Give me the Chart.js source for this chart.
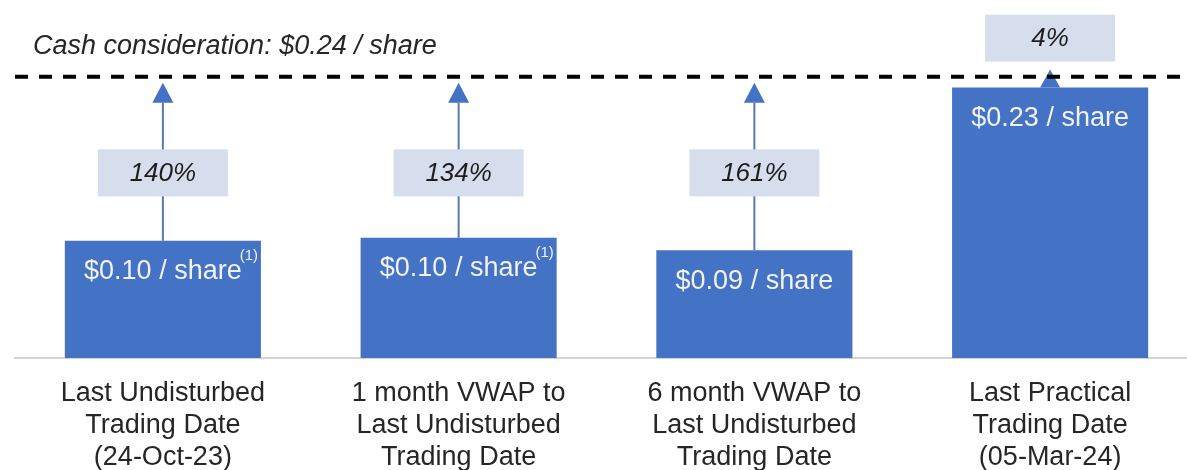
<!DOCTYPE html>
<html><head><meta charset="utf-8">
<script src="https://cdn.jsdelivr.net/npm/chart.js@4.4.0/dist/chart.umd.min.js"></script>
<style>
html,body{margin:0;padding:0;background:#fff;overflow:hidden;}
#wrap{position:relative;width:1200px;height:494px;}
</style></head><body>
<div id="wrap"><canvas id="c"></canvas></div>
<script>
const categories = [
  ["Last Undisturbed", "Trading Date", "(24-Oct-23)"],
  ["1 month VWAP to", "Last Undisturbed", "Trading Date"],
  ["6 month VWAP to", "Last Undisturbed", "Trading Date"],
  ["Last Practical", "Trading Date", "(05-Mar-24)"]
];
const sharePrices = [0.100, 0.1026, 0.092, 0.2308];
const priceLabels = ["$0.10 / share", "$0.10 / share", "$0.09 / share", "$0.23 / share"];
const footnoteMarks = ["(1)", "(1)", "", ""];
const premiumLabels = ["140%", "134%", "161%", "4%"];
const cashConsideration = 0.24;
const cashLabel = "Cash consideration: $0.24 / share";

const FONT = "'Liberation Sans', Arial, sans-serif";

const overlay = {
  id: 'overlay',
  afterDatasetsDraw(chart) {
    const ctx = chart.ctx;
    const ys = chart.scales.y;
    const meta = chart.getDatasetMeta(0);
    const lineY = ys.getPixelForValue(cashConsideration);
    const boxW = 130, boxH = 47;
    ctx.save();
    meta.data.forEach((bar, i) => {
      const cx = bar.x, top = bar.y;
      const nearCash = sharePrices[i] > cashConsideration * 0.9;
      let boxCY;
      ctx.fillStyle = '#4472C4';
      if (!nearCash) {
        const tip = lineY + 6, base = tip + 20;
        ctx.strokeStyle = '#5A78AE';
        ctx.lineWidth = 2;
        ctx.beginPath();
        ctx.moveTo(cx, base);
        ctx.lineTo(cx, top);
        ctx.stroke();
        ctx.beginPath();
        ctx.moveTo(cx, tip);
        ctx.lineTo(cx - 10.5, base);
        ctx.lineTo(cx + 10.5, base);
        ctx.closePath();
        ctx.fill();
        boxCY = ys.getPixelForValue(0.158);
      } else {
        ctx.beginPath();
        ctx.moveTo(cx, top - 18);
        ctx.lineTo(cx - 10, top);
        ctx.lineTo(cx + 10, top);
        ctx.closePath();
        ctx.fill();
        boxCY = ys.getPixelForValue(0.273);
      }
      // premium box
      ctx.fillStyle = '#D6DEEE';
      ctx.fillRect(cx - boxW / 2, boxCY - boxH / 2, boxW, boxH);
      ctx.fillStyle = '#1E1E1E';
      ctx.font = 'italic 26px ' + FONT;
      ctx.textAlign = 'center';
      ctx.textBaseline = 'middle';
      ctx.fillText(premiumLabels[i], cx, boxCY + 1);
      // price label inside bar
      ctx.fillStyle = '#F2F2F2';
      ctx.font = '27px ' + FONT;
      ctx.textAlign = 'center';
      ctx.textBaseline = 'middle';
      const ly = top + 31;
      ctx.fillText(priceLabels[i], cx, ly);
      if (footnoteMarks[i]) {
        const w = ctx.measureText(priceLabels[i]).width;
        ctx.font = '15px ' + FONT;
        ctx.textAlign = 'left';
        ctx.fillText(footnoteMarks[i], cx + w / 2 - 2, top + 15);
      }
    });
    // dashed cash line
    ctx.strokeStyle = '#000';
    ctx.lineWidth = 4;
    ctx.setLineDash([13, 11]);
    ctx.beginPath();
    ctx.moveTo(15, lineY);
    ctx.lineTo(chart.width, lineY);
    ctx.stroke();
    ctx.setLineDash([]);
    // cash label
    ctx.fillStyle = '#262626';
    ctx.font = 'italic 27px ' + FONT;
    ctx.textAlign = 'left';
    ctx.textBaseline = 'alphabetic';
    ctx.fillText(cashLabel, 33, lineY - 23);
    ctx.restore();
  }
};

new Chart(document.getElementById('c'), {
  type: 'bar',
  data: {
    labels: categories,
    datasets: [{
      data: sharePrices,
      backgroundColor: '#4472C4',
      borderWidth: 0,
      barPercentage: 0.663,
      categoryPercentage: 1
    }]
  },
  options: {
    responsive: true,
    maintainAspectRatio: false,
    animation: false,
    events: [],
    layout: { padding: { left: 15, right: 2, top: 6.5, bottom: 0 } },
    plugins: { legend: { display: false }, tooltip: { enabled: false } },
    scales: {
      x: {
        grid: { display: false, drawTicks: false },
        border: { display: true, color: '#D4D4D4', width: 2 },
        ticks: {
          color: '#262626',
          font: { family: FONT, size: 27, lineHeight: 32 / 27 },
          padding: 20,
          maxRotation: 0,
          autoSkip: false
        }
      },
      y: { display: false, min: 0, max: 0.30 }
    }
  },
  plugins: [overlay]
});
</script>
</body></html>
